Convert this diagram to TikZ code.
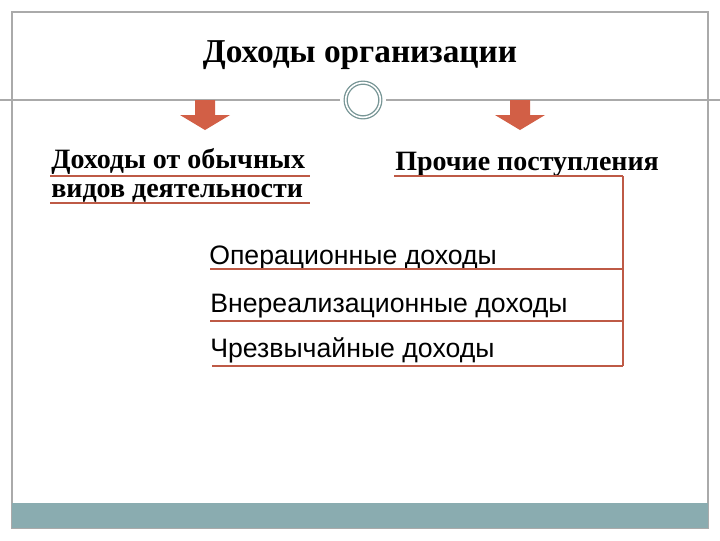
\documentclass[tikz,border=0pt]{standalone}
\usepackage{fontspec}
\setmainfont{Liberation Serif}
\newfontfamily\arial{Liberation Sans}
\definecolor{ln}{RGB}{190,90,70}
\definecolor{arr}{RGB}{210,95,70}
\definecolor{teal}{RGB}{138,172,176}
\definecolor{frm}{RGB}{170,170,170}
\definecolor{circ}{RGB}{120,150,150}
\tikzset{x=0.75pt,y=-0.75pt,
 ul/.style={draw=ln,line width=1.8pt},
 arrw/.style={fill=arr,draw=none},
 ser/.style={font=\fontsize{21}{24}\selectfont\bfseries,inner sep=0,anchor=base west},
 san/.style={font=\arial\fontsize{20}{24}\selectfont,inner sep=0,anchor=base west}}
\begin{document}
\begin{tikzpicture}
\useasboundingbox (0,0) rectangle (720,540);
\fill[white] (0,0) rectangle (720,540);
\draw[frm,line width=0.8pt] (12,12) rectangle (708,528);
\fill[teal] (12,503) rectangle (708,528);
\node[font=\fontsize{25}{30}\selectfont\bfseries] (title) at (360,55) {Доходы организации};
\draw[frm,line width=0.8pt] (0,100) -- (340,100) (386,100) -- (720,100);
\node[circle,draw=circ,double=white,double distance=1.2pt,line width=1pt,minimum size=26pt,fill=white] (c) at (363,100) {};
\fill[arrw] (195,100) -- (215,100) -- (215,115) -- (230,115) -- (205,130) -- (180,115) -- (195,115) -- cycle;
\fill[arrw] (510,100) -- (530,100) -- (530,115) -- (545,115) -- (520,130) -- (495,115) -- (510,115) -- cycle;
\node[ser] (a1) at (51,168) {Доходы от обычных};
\node[ser] (a2) at (51,197) {видов деятельности};
\draw[ul] (50,176) -- (310,176);
\draw[ul] (50,203) -- (310,203);
\node[ser] (b) at (395,170) {Прочие поступления};
\coordinate (t) at (623,176);
\draw[ul] (394,176) -- (t);
\node[san] (o1) at (209,264) {Операционные доходы};
\node[san] (o2) at (210,312) {Внереализационные доходы};
\node[san] (o3) at (210,357) {Чрезвычайные доходы};
\coordinate (e1) at (623,269);\coordinate (e2) at (623,321);\coordinate (e3) at (623,366);
\draw[ln,line width=1.8pt] (t) -- (e3);
\draw[ul] (210,269) -- (e1);
\draw[ul] (210,321) -- (e2);
\draw[ul] (212,366) -- (e3);
\end{tikzpicture}
\end{document}
